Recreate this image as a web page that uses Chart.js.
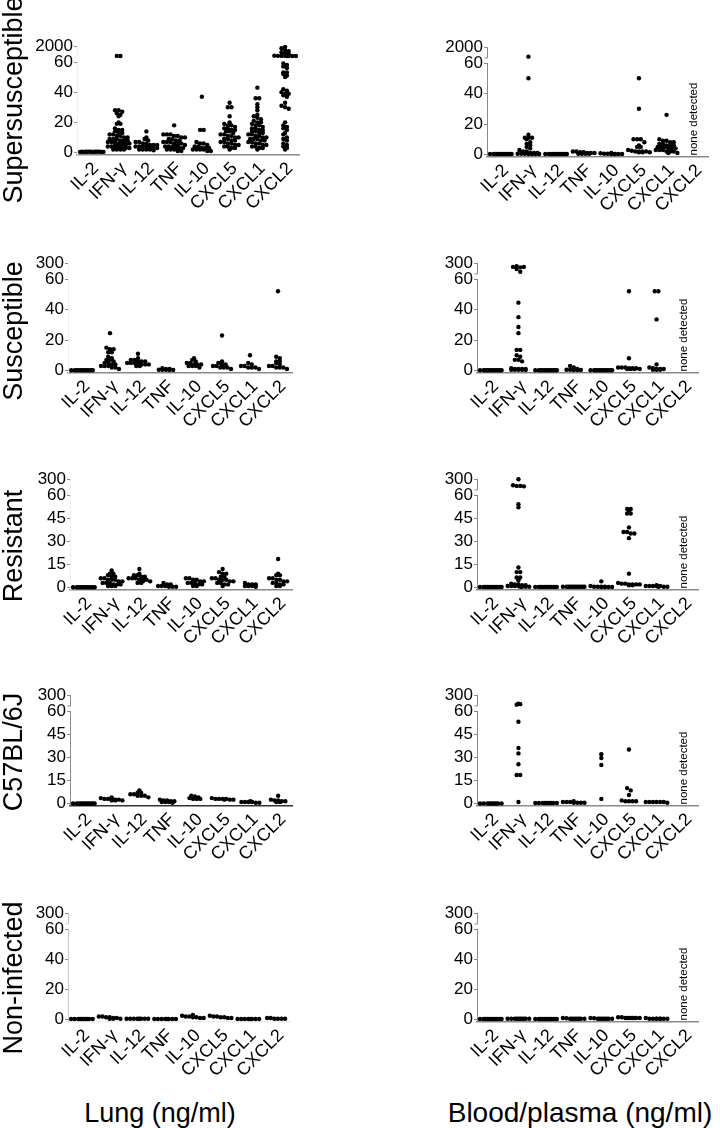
<!DOCTYPE html>
<html>
<head>
<meta charset="utf-8">
<script src="https://cdn.jsdelivr.net/npm/chart.js@4.4.0/dist/chart.umd.min.js"></script>
<style>
  html, body { margin: 0; padding: 0; background: #fff; }
  #fig { position: relative; width: 720px; height: 1128px; overflow: hidden;
         font-family: "Liberation Sans", Arial, sans-serif; color: #000; }
  #fig canvas { position: absolute; }
  .rowLabel { position: absolute; font-size: 27px; white-space: nowrap;
              transform: translate(-50%, -50%) rotate(-90deg); }
  .colLabel { position: absolute; white-space: nowrap; transform: translate(-50%, -50%); }
</style>
</head>
<body>
<div id="fig"></div>
<script>
// categories and labels
const cytokines = ['IL-2', 'IFN-γ', 'IL-12', 'TNF', 'IL-10', 'CXCL5', 'CXCL1', 'CXCL2'];
const groups = ['Supersusceptible', 'Susceptible', 'Resistant', 'C57BL/6J', 'Non-infected'];
const tissues = ['Lung (ng/ml)', 'Blood/plasma (ng/ml)'];
const noneText = 'none detected';

// y tick values (broken axis: last value sits above the break)
const ticksTo2000 = [0, 20, 40, 60, 2000];
const ticksTo300 = [0, 20, 40, 60, 300];
const ticksBy15 = [0, 15, 30, 45, 60, 300];

// values per cytokine (ng/ml)
const lungSupersusceptible = [
  [0.4, 0.4, 0.5, 0.5, 0.5, 0.6, 0.4, 0.5, 0.5, 0.6, 0.4, 0.5, 0.5, 0.4],
  [250, 240, 28, 28, 27, 26, 25, 24, 20, 19, 19, 16, 15, 15, 14, 13, 13, 12, 12, 11, 11, 10, 10, 9, 9, 9, 8, 8, 8, 7, 7, 7, 6, 6, 6, 6, 5, 5, 5, 5, 4, 4, 4, 4, 3, 3, 3, 3, 2, 2, 2, 2],
  [14, 10, 9, 8, 7, 7, 6, 6, 5, 5, 5, 4, 4, 4, 4, 3, 3, 3, 3, 2, 2, 2, 2, 1.5],
  [18, 12, 12, 12, 11, 11, 10, 10, 9, 9, 8, 8, 7, 7, 7, 6, 6, 6, 5, 5, 5, 4, 4, 4, 3, 3, 3, 2, 2, 2, 1, 1],
  [37, 15, 15, 7, 6, 6, 5, 4, 4, 3, 3, 3, 2, 2, 2, 2, 1, 1],
  [33, 30, 30, 24, 20, 19, 18, 18, 17, 16, 16, 15, 15, 14, 14, 13, 12, 12, 11, 11, 10, 10, 9, 9, 8, 8, 7, 7, 6, 6, 5, 5, 4, 4, 3, 3, 2],
  [43, 36, 36, 32, 30, 28, 25, 24, 23, 22, 21, 20, 20, 19, 18, 18, 17, 16, 16, 15, 15, 14, 14, 13, 13, 12, 12, 11, 11, 10, 10, 9, 9, 9, 8, 8, 7, 7, 6, 6, 5, 5, 4, 4, 3, 3, 2],
  [1850, 1600, 1300, 1100, 900, 700, 600, 300, 260, 250, 250, 240, 240, 230, 220, 59, 58, 57, 56, 53, 53, 52, 51, 50, 42, 41, 40, 39, 39, 38, 37, 33, 31, 30, 29, 20, 18, 17, 16, 15, 13, 12, 10, 9, 8, 6, 5, 4, 3, 2]
];
const bloodSupersusceptible = [
  [0.3, 0.3, 0.3, 0.3, 0.3, 0.3, 0.3, 0.3, 0.3, 0.3, 0.3, 0.3],
  [300, 50, 13, 11, 11, 11, 10, 8, 7, 6, 5, 4, 3, 2, 2, 1, 1, 1, 0.5, 0.5, 0.5, 0.3, 0.3, 0.3, 0.3],
  [0.3, 0.3, 0.3, 0.3, 0.3, 0.3, 0.3, 0.3, 0.3, 0.3, 0.3, 0.3],
  [2, 2, 1.5, 1.5, 1, 1, 1, 0.5, 0.5, 0.5, 0.5],
  [1, 0.8, 0.5, 0.5, 0.5, 0.3, 0.3, 0.3, 0.3, 0.3],
  [50, 30, 10, 10, 10, 8, 6, 5, 5, 3, 2.5, 2, 2, 2, 2, 1.5, 1.5, 1.5],
  [26, 10, 9, 9, 8, 8, 7, 7, 6, 6, 6, 5, 5, 5, 4, 4, 4, 3, 3, 3, 2, 2, 2, 1, 1],
  []
];
const lungSusceptible = [
  [0.2, 0.2, 0.2, 0.2, 0.2, 0.2, 0.2, 0.2, 0.2, 0.2, 0.2, 0.2],
  [24.5, 15, 14, 14, 12, 12, 9, 8, 7, 7, 6, 5, 5, 4, 4, 3, 3, 3, 2, 2, 1],
  [11, 8, 7, 7, 6, 6, 6, 5, 5, 5, 5, 4, 4, 4, 4, 3, 3],
  [1.5, 1, 1, 0.5, 0.5, 0.5, 0.3, 0.3],
  [8, 7, 6, 5, 5, 4, 4, 4, 3, 3, 3, 2],
  [23, 6, 5, 4, 4, 3, 3, 2, 2, 2, 1],
  [10, 5, 4, 3, 3, 2, 2, 2, 1],
  [52, 9, 8, 6, 6, 5, 4, 3, 3, 2, 2, 2, 1]
];
const bloodSusceptible = [
  [0.2, 0.2, 0.2, 0.2, 0.2, 0.2, 0.2, 0.2, 0.2, 0.2, 0.2, 0.2],
  [215, 230, 205, 215, 170, 110, 44.5, 35, 28.5, 24.5, 13.5, 13.5, 10, 9, 7, 7, 6, 1.5, 1, 1, 1, 1, 0.5, 0.5, 0.5, 0.5, 0.3],
  [0.2, 0.2, 0.2, 0.2, 0.2, 0.2, 0.2, 0.2, 0.2, 0.2, 0.2, 0.2],
  [3, 2, 1, 0.5, 0.5, 0.3, 0.3, 0.3],
  [0.2, 0.2, 0.2, 0.2, 0.2, 0.2, 0.2, 0.2, 0.2, 0.2, 0.2, 0.2],
  [52, 8, 2, 2, 2, 1.5, 1.5, 1.5, 1, 1, 1, 1],
  [52, 52, 33.5, 4, 2, 1.5, 1, 1, 1, 0.5, 0.5, 0.5],
  []
];
const lungResistant = [
  [0.2, 0.2, 0.2, 0.2, 0.2, 0.2, 0.2, 0.2, 0.2, 0.2, 0.2, 0.2],
  [11, 9, 9, 8, 7, 7, 6, 6, 5, 5, 5, 4, 4, 3, 3, 3, 2, 2, 2, 1, 1, 1],
  [12, 9, 8, 8, 7, 7, 6, 6, 6, 5, 5, 5, 4, 4, 4, 3, 3],
  [3, 2, 2, 1, 1, 1, 0.5, 0.5, 0.5],
  [6, 6, 5, 5, 4, 4, 3, 3, 3, 2, 2, 1, 1],
  [12, 10, 9, 9, 7, 7, 6, 6, 5, 5, 5, 4, 4, 3, 3, 2, 2, 1],
  [3, 2, 2, 2, 1, 1, 1, 0.5],
  [18.5, 9, 8, 8, 6, 6, 5, 5, 4, 4, 3, 3, 2, 2, 1, 1]
];
const bloodResistant = [
  [0.3, 0.3, 0.3, 0.3, 0.3, 0.3, 0.3, 0.3, 0.3, 0.3, 0.3, 0.3],
  [295, 165, 150, 150, 140, 54, 52, 13, 10, 10, 6.5, 6.5, 4.5, 2.5, 2, 2, 1.5, 1.5, 1, 1, 1, 1, 0.5, 0.5, 0.5, 0.5],
  [0.4, 0.4, 0.4, 0.4, 0.4, 0.4, 0.4, 0.4, 0.4, 0.4, 0.4, 0.4],
  [0.5, 0.5, 0.5, 0.5, 0.5, 0.5, 0.5, 0.5, 0.5, 0.5, 0.5, 0.5],
  [4, 1, 0.5, 0.5, 0.5, 0.5, 0.3, 0.3, 0.3, 0.3],
  [51, 51, 50, 48, 48, 39, 36, 36, 35, 35, 32, 9, 3, 2.5, 2.5, 2, 2, 2, 2, 1.5, 1.5],
  [1.5, 1, 1, 1, 1, 1, 0.5, 0.5, 0.5],
  []
];
const lungC57 = [
  [0, 0, 0, 0, 0, 0, 0, 0, 0, 0, 0, 0],
  [4, 3.5, 3, 3, 3, 2.5, 2.5, 2, 2, 2],
  [8.5, 7, 7, 6, 6, 5, 5, 5, 4],
  [2.5, 2, 2, 1.5, 1.5, 1, 1, 1, 0.5],
  [5, 4.5, 4, 3.5, 3, 3, 3],
  [3.5, 3, 3, 3, 3, 2.5, 2.5, 2.5],
  [1.5, 1, 1, 1, 1, 0.5, 0.5],
  [5, 2.5, 2, 2, 1.5, 1.5, 1, 1]
];
const bloodC57 = [
  [0, 0, 0, 0, 0, 0, 0, 0, 0, 0],
  [110, 90, 100, 53, 36, 32.5, 25.5, 18.5, 18.5, 1],
  [0.3, 0.3, 0.3, 0.3, 0.3, 0.3, 0.3, 0.3, 0.3, 0.3],
  [1.5, 1, 1, 1, 0.5, 0.5, 0.5, 0.5],
  [32, 29.5, 25, 3],
  [35, 10, 8.5, 5.5, 2, 1.5, 1.5, 1.5, 1.5],
  [1, 1, 1, 1, 1, 1, 0.5],
  []
];
const lungNoninfected = [
  [0.3, 0.3, 0.3, 0.3, 0.3, 0.3, 0.3, 0.3, 0.3, 0.3],
  [2, 2, 1.5, 1.5, 1, 1, 0.5, 0.5, 0.5],
  [0.5, 0.5, 0.5, 0.5, 0.5, 0.5, 0.5, 0.5],
  [0.3, 0.3, 0.3, 0.3, 0.3, 0.3, 0.3, 0.3],
  [3, 2.5, 2, 2, 1.5, 1.5, 1, 1],
  [2.5, 2, 2, 1.5, 1.5, 1, 1],
  [0.3, 0.3, 0.3, 0.3, 0.3, 0.3, 0.3, 0.3],
  [1, 1, 0.5, 0.5, 0.5, 0.5]
];
const bloodNoninfected = [
  [0.3, 0.3, 0.3, 0.3, 0.3, 0.3, 0.3, 0.3, 0.3, 0.3, 0.3, 0.3],
  [0.5, 0.5, 0.5, 0.5, 0.5, 0.5, 0.5, 0.5, 0.5, 0.5],
  [0.3, 0.3, 0.3, 0.3, 0.3, 0.3, 0.3, 0.3, 0.3, 0.3, 0.3, 0.3],
  [1, 0.8, 0.5, 0.5, 0.5, 0.5, 0.5, 0.5, 0.5, 0.5],
  [1, 0.8, 0.5, 0.5, 0.5, 0.5, 0.5, 0.5, 0.5, 0.5],
  [1.5, 1.5, 1, 1, 1, 1, 1, 1, 1, 1],
  [1, 0.5, 0.5, 0.5, 0.5, 0.5, 0.5, 0.5, 0.5],
  []
];

// panel layout: [axisLeft, axisRight, axisTop, axisBottom] in page px
const panels = [
  { data: lungSupersusceptible,  ticks: ticksTo2000, box: [77, 299, 46, 155],  yLine: '#f0f0f0', xLine: '#8a8a8a' },
  { data: bloodSupersusceptible, ticks: ticksTo2000, box: [487, 708, 47, 157], yLine: '#8a8a8a', xLine: '#8a8a8a', none: true },
  { data: lungSusceptible,       ticks: ticksTo300,  box: [68, 292, 263, 373], yLine: '#f0f0f0', xLine: '#8a8a8a' },
  { data: bloodSusceptible,      ticks: ticksTo300,  box: [477, 698, 263, 373], yLine: '#8a8a8a', xLine: '#8a8a8a', none: true },
  { data: lungResistant,         ticks: ticksBy15,   box: [70, 292, 479, 590], yLine: '#f0f0f0', xLine: '#8a8a8a' },
  { data: bloodResistant,        ticks: ticksBy15,   box: [477, 698, 479, 590], yLine: '#8a8a8a', xLine: '#8a8a8a', none: true },
  { data: lungC57,               ticks: ticksBy15,   box: [70, 292, 695, 806], yLine: '#8a8a8a', xLine: '#333333' },
  { data: bloodC57,              ticks: ticksBy15,   box: [477, 698, 695, 806], yLine: '#8a8a8a', xLine: '#8a8a8a', none: true },
  { data: lungNoninfected,       ticks: ticksTo300,  box: [68, 290, 913, 1022], yLine: '#c8c8c8', xLine: '#eeeeee' },
  { data: bloodNoninfected,      ticks: ticksTo300,  box: [477, 698, 913, 1022], yLine: '#8a8a8a', xLine: '#8a8a8a', none: true }
];
const rowLabelY = [100, 331, 546, 752, 978];

const Y_W = 62, PAD_TOP = 12, PAD_RIGHT = 14, X_H = 72;
const UPPER_PX = 11, GAP_PX = 5, ZERO_PX = 2.5, BREAK_AT = 60;

Chart.defaults.font.family = '"Liberation Sans", Arial, sans-serif';
Chart.defaults.color = '#000';

// distance from the top of the axis for a value on the broken axis
function brokenOffset(value, h, max) {
  if (value > BREAK_AT) {
    return UPPER_PX - (value - BREAK_AT) / (max - BREAK_AT) * UPPER_PX;
  }
  const lowTop = UPPER_PX + GAP_PX, zero = h - ZERO_PX;
  return zero - value / BREAK_AT * (zero - lowTop);
}

class BrokenScale extends Chart.LinearScale {
  getPixelForValue(value) {
    return this.top + brokenOffset(value, this.bottom - this.top, this.max);
  }
  getValueForPixel(pixel) {
    const h = this.bottom - this.top, d = pixel - this.top;
    if (d < UPPER_PX + GAP_PX) return BREAK_AT + (UPPER_PX - d) / UPPER_PX * (this.max - BREAK_AT);
    const lowTop = UPPER_PX + GAP_PX, zero = h - ZERO_PX;
    return (zero - d) / (zero - lowTop) * BREAK_AT;
  }
}
BrokenScale.id = 'broken';
BrokenScale.defaults = { ticks: { callback: v => String(v) } };
Chart.register(BrokenScale);

// spread points of similar value sideways, like a column scatter
function columnPoints(values, ci, h, max, catPx) {
  const bins = new Map();
  values.forEach(v => {
    const k = Math.round(brokenOffset(v, h, max) / 3.6);
    if (!bins.has(k)) bins.set(k, []);
    bins.get(k).push(v);
  });
  const pts = [];
  bins.forEach(list => {
    list.forEach((v, i) => {
      const row = Math.floor(i / 7);
      const inRow = Math.min(7, list.length - row * 7);
      const j = i % 7;
      const shift = (j - (inRow - 1) / 2 + (row % 2) * 0.5) * 3.6;
      pts.push({ x: ci + shift / catPx, y: v });
    });
  });
  return pts;
}

// y axis line with the break
const brokenAxisLine = {
  id: 'brokenAxis',
  beforeDatasetsDraw(chart, args, opts) {
    const a = chart.chartArea, y = chart.scales.y, ctx = chart.ctx;
    const x = Math.round(a.left) + 0.5;
    ctx.save();
    ctx.strokeStyle = opts.color || '#8a8a8a';
    ctx.lineWidth = 1;
    ctx.beginPath();
    ctx.moveTo(x, a.bottom);
    ctx.lineTo(x, y.getPixelForValue(BREAK_AT));
    ctx.moveTo(x, a.top);
    ctx.lineTo(x, a.top + UPPER_PX);
    ctx.lineTo(x - 3, a.top + UPPER_PX);
    ctx.stroke();
    ctx.restore();
  }
};

// vertical "none detected" note at the CXCL2 column
const noneDetected = {
  id: 'noneDetected',
  afterDatasetsDraw(chart, args, opts) {
    if (!opts || !opts.show) return;
    const ctx = chart.ctx;
    const x = chart.scales.x.getPixelForValue(cytokines.length - 1);
    const y = chart.scales.y.getPixelForValue(0);
    ctx.save();
    ctx.translate(x, y + 1);
    ctx.rotate(-Math.PI / 2);
    ctx.font = '11.5px "Liberation Sans", Arial, sans-serif';
    ctx.fillStyle = '#000';
    ctx.textAlign = 'left';
    ctx.textBaseline = 'middle';
    ctx.fillText(noneText, 0, 0);
    ctx.restore();
  }
};

const fig = document.getElementById('fig');

panels.forEach(p => {
  const [l, r, t, b] = p.box;
  const h = b - t;
  const max = p.ticks[p.ticks.length - 1];
  const catPx = (r - l) / cytokines.length;

  const canvas = document.createElement('canvas');
  canvas.width = Y_W + (r - l) + PAD_RIGHT;
  canvas.height = PAD_TOP + h + X_H;
  canvas.style.left = (l - Y_W) + 'px';
  canvas.style.top = (t - PAD_TOP) + 'px';
  fig.appendChild(canvas);

  const datasets = p.data.map((vals, ci) => ({
    label: cytokines[ci],
    data: columnPoints(vals, ci, h, max, catPx),
    pointRadius: 2.2,
    pointBackgroundColor: '#000',
    pointBorderWidth: 0,
    showLine: false,
    clip: false
  }));

  new Chart(canvas, {
    type: 'scatter',
    data: { datasets },
    options: {
      responsive: false,
      animation: false,
      devicePixelRatio: 1,
      events: [],
      layout: { padding: { top: PAD_TOP, right: PAD_RIGHT, left: 0, bottom: 0 } },
      scales: {
        x: {
          type: 'linear',
          min: -0.5,
          max: cytokines.length - 0.5,
          afterBuildTicks: s => { s.ticks = cytokines.map((c, i) => ({ value: i })); },
          afterFit: s => { s.height = X_H; },
          ticks: {
            callback: v => cytokines[v],
            autoSkip: false,
            minRotation: 45,
            maxRotation: 45,
            padding: 3,
            labelOffset: 5,
            font: { size: 18 }
          },
          grid: { display: false, drawTicks: false },
          border: { display: true, color: p.xLine, width: 1.5 }
        },
        y: {
          type: 'broken',
          min: 0,
          max: max,
          afterBuildTicks: s => { s.ticks = p.ticks.map(v => ({ value: v })); },
          afterFit: s => { s.width = Y_W; },
          ticks: { autoSkip: false, padding: 1, font: { size: 17 } },
          grid: { display: true, drawOnChartArea: false, drawTicks: true, tickLength: 3, color: '#8a8a8a' },
          border: { display: false }
        }
      },
      plugins: {
        legend: { display: false },
        tooltip: { enabled: false },
        brokenAxis: { color: p.yLine },
        noneDetected: { show: !!p.none }
      }
    },
    plugins: [brokenAxisLine, noneDetected]
  });
});

// row labels on the left
groups.forEach((g, i) => {
  const d = document.createElement('div');
  d.className = 'rowLabel';
  d.textContent = g;
  d.style.left = '13px';
  d.style.top = rowLabelY[i] + 'px';
  fig.appendChild(d);
});

// column titles at the bottom
[[160, 27], [580, 28]].forEach(([cx, size], i) => {
  const d = document.createElement('div');
  d.className = 'colLabel';
  d.textContent = tissues[i];
  d.style.left = cx + 'px';
  d.style.top = '1113px';
  d.style.fontSize = size + 'px';
  fig.appendChild(d);
});
</script>
</body>
</html>
